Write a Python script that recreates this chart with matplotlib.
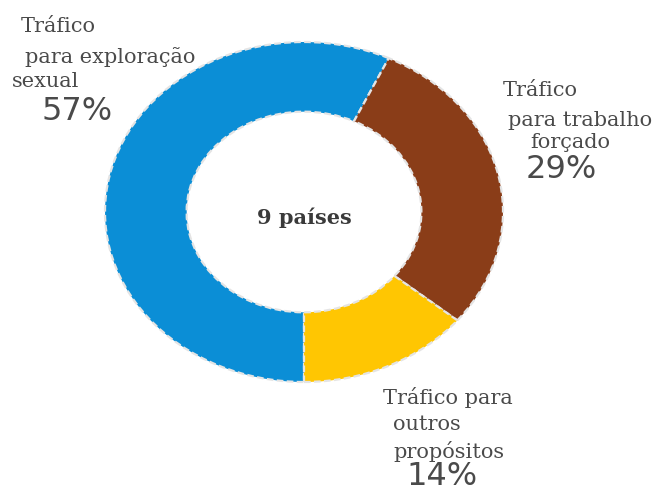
import matplotlib
matplotlib.use("Agg")
import matplotlib.pyplot as plt

# dados
categorias = ["Tráfico\n para exploração\nsexual", "Tráfico\n para trabalho\n forçado", "Tráfico para\n outros\n propósitos"]
valores = [57, 29, 14]
cores = ["#0B8ED6", "#8A3D18", "#FFC602"]
centro = "9 países"

W, H = 661, 493
fig = plt.figure(figsize=(W / 100, H / 100), dpi=100)
ax = fig.add_axes([0, 0, 1, 1])

# anel um pouco achatado como no original
cx, cy = 304, 212
rx, ry = 199, 170

wedges, _ = ax.pie(valores, colors=cores, startangle=270, counterclock=False,
                   radius=1, center=(0, 0), frame=True,
                   wedgeprops=dict(width=0.41, edgecolor="#e4e4e4", linewidth=1.6,
                                   linestyle=(0, (3, 1.5))))
ax.set_aspect("auto")
ax.set_xlim(-cx / rx, (W - cx) / rx)
ax.set_ylim(-(H - cy) / ry, cy / ry)
ax.axis("off")

def px(x, y):
    return x / W, 1 - y / H

serif = ["DejaVu Serif"]
cinza = "#4a4a4a"

# posições dos rótulos (pixel, canto esquerdo/centro vertical)
pos_linhas = [
    [(21, 26), (25, 57), (12, 81)],
    [(503, 90), (508, 120), (530, 143)],
    [(383, 398), (393, 424), (393, 451)],
]
# percentuais: (x, y, alinhamento vertical)
pos_pct = [(42, 112, "center"), (526, 170, "center"), (406, 492, "bottom")]

for cat, v, linhas_xy, (x0, y0, va) in zip(categorias, valores, pos_linhas, pos_pct):
    for linha, (x, y) in zip(cat.split("\n"), linhas_xy):
        fig.text(*px(x, y), linha.strip(), family=serif, fontsize=15,
                 color=cinza, ha="left", va="center")
    fig.text(*px(x0, y0), f"{v}%", family=["DejaVu Sans"], fontsize=23,
             color=cinza, ha="left", va=va)

fig.text(*px(304, 218), centro, family=serif, fontsize=15, fontweight="bold",
         color="#3a3a3a", ha="center", va="center")

fig.savefig("out.png", dpi=100, facecolor="white")
